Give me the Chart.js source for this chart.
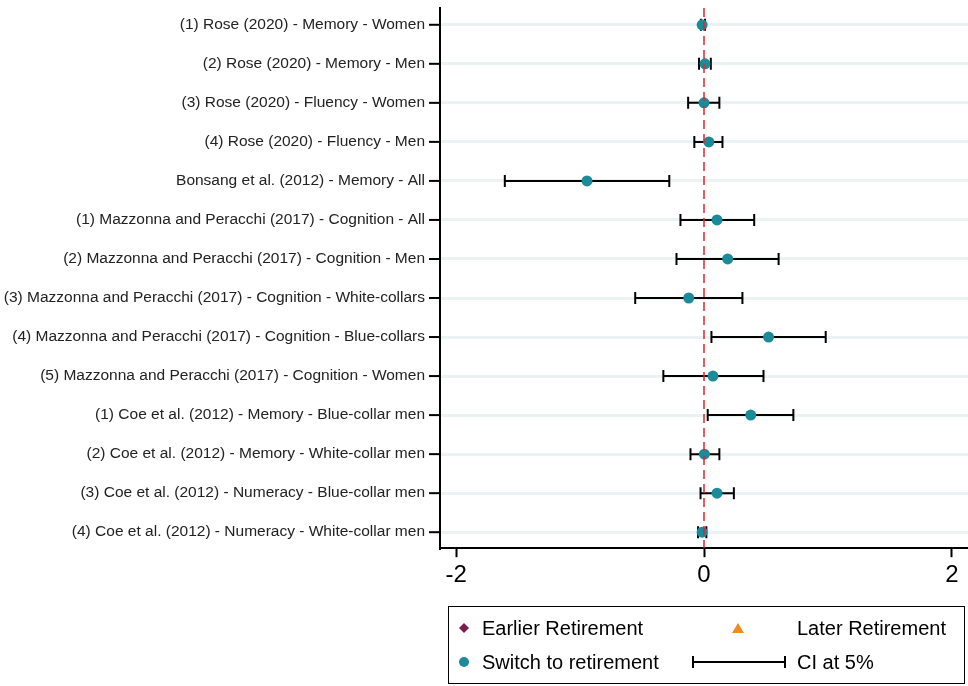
<!DOCTYPE html>
<html>
<head>
<meta charset="utf-8">
<script src="https://cdn.jsdelivr.net/npm/chart.js@4"></script>
<style>
    body {
        margin: 0;
        background: #fff;
        font-family: "Liberation Sans", Arial, sans-serif;
        overflow: hidden;
    }
    .wrap {
        position: relative;
        width: 968px;
        height: 686px;
        overflow: hidden;
    }
    .legend {
        position: absolute;
        left: 448px;
        top: 606px;
        width: 517px;
        height: 78px;
        border: 1px solid #000;
        box-sizing: border-box;
        font-size: 20px;
        color: #000;
    }
    .sym, .txt {
        position: absolute;
    }
    .txt {
        line-height: 24px;
    }
</style>
</head>
<body>
<div class="wrap">
    <!-- a bit wider than the page so the plot runs to the right edge -->
    <canvas id="forest" width="976" height="686"></canvas>
    <div class="legend" id="legend"></div>
</div>
<script>
// estimates
const labels = [
    "(1) Rose (2020) - Memory - Women",
    "(2) Rose (2020) - Memory - Men",
    "(3) Rose (2020) - Fluency - Women",
    "(4) Rose (2020) - Fluency - Men",
    "Bonsang et al. (2012) - Memory - All",
    "(1) Mazzonna and Peracchi (2017) - Cognition - All",
    "(2) Mazzonna and Peracchi (2017) - Cognition - Men",
    "(3) Mazzonna and Peracchi (2017) - Cognition - White-collars",
    "(4) Mazzonna and Peracchi (2017) - Cognition - Blue-collars",
    "(5) Mazzonna and Peracchi (2017) - Cognition - Women",
    "(1) Coe et al. (2012) - Memory - Blue-collar men",
    "(2) Coe et al. (2012) - Memory - White-collar men",
    "(3) Coe et al. (2012) - Numeracy - Blue-collar men",
    "(4) Coe et al. (2012) - Numeracy - White-collar men",
]
const estimate = [-0.015, 0.008, 0.0, 0.039, -0.944, 0.105, 0.191, -0.123, 0.521, 0.072, 0.377, 0.003, 0.105, -0.015]
const ciLow = [-0.025, -0.04, -0.128, -0.078, -1.607, -0.19, -0.222, -0.555, 0.06, -0.328, 0.03, -0.109, -0.028, -0.048]
const ciHigh = [0.008, 0.055, 0.124, 0.149, -0.28, 0.405, 0.602, 0.31, 0.982, 0.48, 0.721, 0.124, 0.241, 0.019]
const xTicks = [-2, 0, 2]

const xMin = -2.13
const xMax = 2.13
const yMin = 0.57
const yMax = 14.41
const teal = '#1b8a99'

// confidence interval segments, one dataset per row
let ciSets = labels.map((l, i) => ({
    type: 'line',
    data: [{ x: ciLow[i], y: i + 1 }, { x: ciHigh[i], y: i + 1 }],
    borderColor: '#000',
    borderWidth: 2,
    pointStyle: 'line',
    rotation: 90,
    pointRadius: 6,
    pointBorderWidth: 2,
    pointBorderColor: '#000',
    pointHoverRadius: 6,
    order: 2
}))

let datasets = ciSets.concat([
    {
        type: 'scatter',
        label: 'Switch to retirement',
        data: estimate.map((v, i) => ({ x: v, y: i + 1 })),
        backgroundColor: teal,
        borderColor: teal,
        pointRadius: 5.5,
        pointBorderWidth: 0,
        order: 1
    },
    {
        type: 'line',
        label: 'zero',
        data: [{ x: 0, y: yMin }, { x: 0, y: yMax }],
        borderColor: '#e8202a',
        borderWidth: 1.5,
        borderDash: [9, 5],
        pointRadius: 0,
        order: 0
    }
])

new Chart(document.getElementById('forest'), {
    data: { datasets: datasets },
    options: {
        responsive: false,
        animation: false,
        layout: { padding: { top: 7, right: 0, bottom: 92, left: 0 } },
        plugins: {
            legend: { display: false },
            tooltip: { enabled: false }
        },
        scales: {
            x: {
                type: 'linear',
                min: xMin,
                max: xMax,
                afterBuildTicks: s => { s.ticks = xTicks.map(v => ({ value: v })) },
                grid: {
                    drawOnChartArea: false,
                    drawTicks: true,
                    tickLength: 9,
                    tickWidth: 2,
                    tickColor: '#000'
                },
                border: { color: '#000', width: 2 },
                ticks: {
                    color: '#000',
                    font: { size: 24, family: '"Liberation Sans", Arial, sans-serif' },
                    padding: 4,
                    maxRotation: 0
                }
            },
            y: {
                type: 'linear',
                reverse: true,
                min: yMin,
                max: yMax,
                afterBuildTicks: s => { s.ticks = labels.map((l, i) => ({ value: i + 1 })) },
                afterFit: s => { s.width = 440; s.paddingTop = 0; s.paddingBottom = 0 },
                grid: {
                    color: '#eaf2f4',
                    lineWidth: 3,
                    drawTicks: false
                },
                border: { color: '#000', width: 2 },
                ticks: {
                    color: '#222',
                    font: { size: 15.5, family: '"Liberation Sans", Arial, sans-serif' },
                    padding: 15,
                    autoSkip: false,
                    callback: v => labels[v - 1]
                }
            }
        }
    },
    plugins: [{
        // small tick marks left of the y axis
        id: 'yTickMarks',
        afterDraw(chart) {
            let ctx = chart.ctx
            let y = chart.scales.y
            ctx.save()
            ctx.strokeStyle = '#000'
            ctx.lineWidth = 2
            y.ticks.forEach(t => {
                let py = y.getPixelForValue(t.value)
                ctx.beginPath()
                ctx.moveTo(y.right - 11, py)
                ctx.lineTo(y.right, py)
                ctx.stroke()
            })
            ctx.restore()
        }
    }]
})

// legend, positions relative to the box
const legendItems = [
    { text: 'Earlier Retirement', symX: 15, textX: 33, cy: 21, sym: '<polygon points="8,3 13,8 8,13 3,8" fill="#7b1e4e"/>', w: 16 },
    { text: 'Later Retirement', symX: 289, textX: 348, cy: 21, sym: '<polygon points="8,3 14,13 2,13" fill="#f28a22"/>', w: 16 },
    { text: 'Switch to retirement', symX: 15, textX: 33, cy: 55, sym: '<circle cx="8" cy="8" r="5" fill="' + teal + '"/>', w: 16 },
    { text: 'CI at 5%', symX: 290, textX: 348, cy: 55, sym: '<path d="M1 8 H93 M1 2 V14 M93 2 V14" stroke="#000" stroke-width="2" fill="none"/>', w: 94 },
]
let legend = document.getElementById('legend')
legendItems.forEach(it => {
    let s = document.createElementNS('http://www.w3.org/2000/svg', 'svg')
    s.setAttribute('class', 'sym')
    s.setAttribute('width', it.w)
    s.setAttribute('height', 16)
    s.style.left = (it.symX - it.w / 2) + 'px'
    s.style.top = (it.cy - 8) + 'px'
    s.innerHTML = it.sym
    legend.appendChild(s)
    let t = document.createElement('div')
    t.className = 'txt'
    t.style.left = it.textX + 'px'
    t.style.top = (it.cy - 12) + 'px'
    t.textContent = it.text
    legend.appendChild(t)
})
</script>
</body>
</html>
